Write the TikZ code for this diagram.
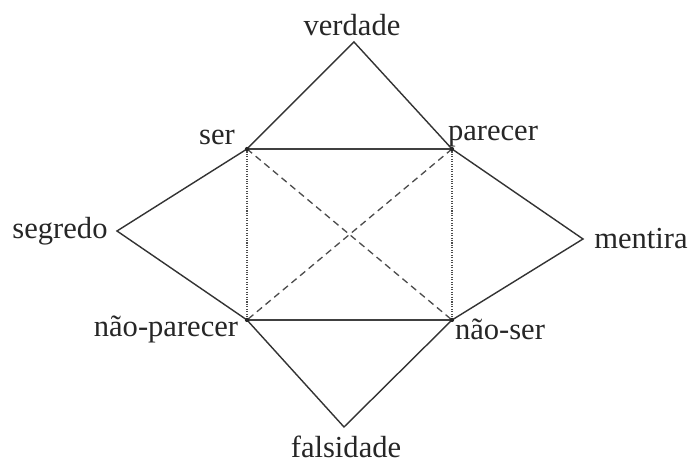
\documentclass[tikz,border=0pt]{standalone}
\usepackage{fontspec}
\setmainfont{Liberation Serif}
\usetikzlibrary{positioning}

\begin{document}
\begin{tikzpicture}[
    x=0.02cm, y=-0.02cm,
    lbl/.style={font=\fontsize{17.4}{20}\selectfont, text=black!85, inner sep=0pt},
    side/.style={draw=black!80, line width=0.8pt},
    square/.style={draw=black!75, line width=1.1pt},
    contra/.style={draw=black!70, line width=0.75pt, dash pattern=on 3.8pt off 2.6pt},
    subc/.style={draw=black!70, line width=0.6pt, dash pattern=on 0.6pt off 0.8pt},
]
\path[use as bounding box] (0,0) rectangle (691,465);
% vertices
\coordinate (ser) at (247,149);
\coordinate (parecer) at (452,149);
\coordinate (naoparecer) at (247,320);
\coordinate (naoser) at (452,320);
\coordinate (verdade) at (354,42);
\coordinate (segredo) at (117,231);
\coordinate (mentira) at (583,239);
\coordinate (falsidade) at (344,427);
% labels
\node[lbl] (tverdade) at (352,25) {verdade};
\node[lbl] (tser) at (217,137) {ser};
\node[lbl] (tparecer) at (493,137) {parecer};
\node[lbl] (tsegredo) at (60,231) {segredo};
\node[lbl] (tmentira) at (641,239) {mentira};
\node[lbl] (tnaoparecer) at (166,329) {não-parecer};
\node[lbl] (tnaoser) at (500,329) {não-ser};
\node[lbl] (tfalsidade) at (346,447) {falsidade};
% square
\draw[contra] (ser) -- (naoser);
\draw[contra] (parecer) -- (naoparecer);
\draw[subc] (ser) -- (naoparecer);
\draw[subc] (parecer) -- (naoser);
\draw[square] (ser) -- (parecer);
\draw[square] (naoparecer) -- (naoser);
% triangles
\draw[side] (ser) -- (verdade) -- (parecer);
\draw[side] (ser) -- (segredo) -- (naoparecer);
\draw[side] (parecer) -- (mentira) -- (naoser);
\draw[side] (naoparecer) -- (falsidade) -- (naoser);
\foreach \c in {ser,parecer,naoparecer,naoser}
  \fill[black!85] (\c) circle (1.2pt);
\end{tikzpicture}
\end{document}
